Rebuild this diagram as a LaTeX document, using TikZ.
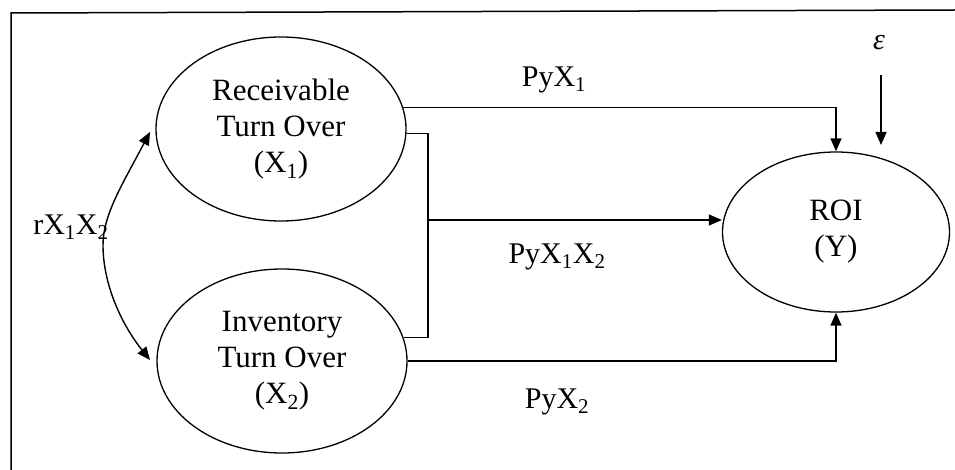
\documentclass[tikz,border=0pt]{standalone}
\usepackage{fontspec}
\setmainfont{Liberation Serif}
\usetikzlibrary{arrows.meta,shapes.geometric}
\tikzset{
  var/.style={draw, ellipse, line width=1.3pt, inner sep=0pt, align=center,
    font=\fontsize{31}{36}\selectfont},
  lbl/.style={font=\fontsize{30}{34}\selectfont, inner sep=0pt},
  conn/.style={line width=1.4pt},
  arr/.style={conn, -{Triangle[length=13pt,width=11pt]}},
  darr/.style={conn, {Triangle[length=13pt,width=11pt]}-{Triangle[length=13pt,width=11pt]}},
  frame/.style={line width=1.5pt}
}
\begin{document}
\begin{tikzpicture}[x=1pt,y=-1pt]
\useasboundingbox (0,0) rectangle (955,470);
% frame (top and left edges visible)
\coordinate (fbl) at (11,470);
\coordinate (ftl) at (11,13);
\coordinate (ftr) at (955,10);
\draw[frame] (fbl) -- (ftl) -- (ftr);

% variables
\node[var, minimum width=250pt, minimum height=184pt] (e1) at (281,129)
  {Receivable\\Turn Over\\(X\textsubscript{1})};
\node[var, minimum width=250pt, minimum height=184pt] (e2) at (282,361)
  {Inventory\\Turn Over\\(X\textsubscript{2})};
\node[var, minimum width=227pt, minimum height=160pt] (roi) at (836,232)
  {ROI\\(Y)};

% labels
\node[lbl] (l1) at (554,80) {PyX\textsubscript{1}};
\node[lbl] (l12) at (557,257) {PyX\textsubscript{1}X\textsubscript{2}};
\node[lbl] (l2) at (557,402) {PyX\textsubscript{2}};
\node[lbl] (lr) at (71,227) {rX\textsubscript{1}X\textsubscript{2}};
\node[lbl] (eps) at (879,43) {\itshape ε};

% direct paths
\draw[arr] (e1.10) -| (roi.north);
\draw[arr] (e2.east) -| (roi.south);

% joint path
\coordinate (jm) at (428,220);
\draw[conn] (e1.-2) -| (jm);
\draw[conn] (e2.11) -| (jm);
\draw[arr] (jm) -- (jm -| roi.west);

% error term
\coordinate (es) at (881,75);
\coordinate (ee) at (881,145);
\draw[arr] (es) -- (ee);

% correlation
\coordinate (ca) at (150,132);
\coordinate (cm) at (103,245);
\coordinate (cb) at (150,360);
\draw[darr] (ca) .. controls (122,185) and (103,215) .. (cm)
            .. controls (103,285) and (122,325) .. (cb);
\end{tikzpicture}
\end{document}
